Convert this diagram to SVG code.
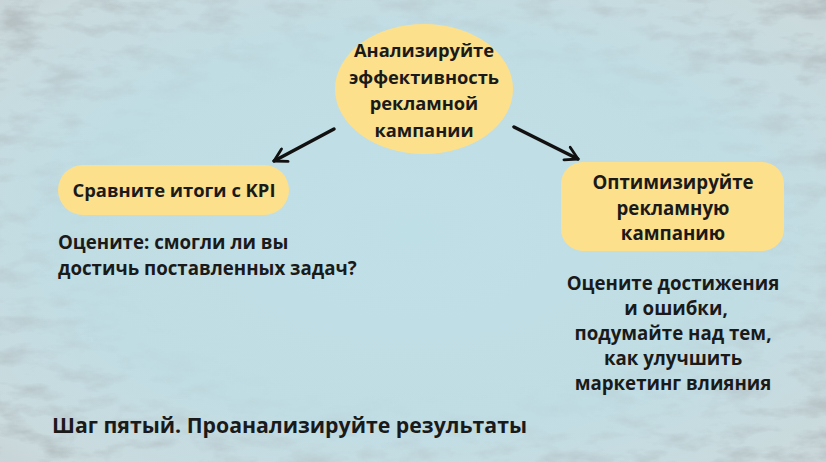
<svg xmlns="http://www.w3.org/2000/svg" width="826" height="462" viewBox="0 0 826 462">
  <defs>
    <radialGradient id="bg" cx="0.5" cy="0.5" r="0.72">
      <stop offset="0" stop-color="#bfdfe6"/>
      <stop offset="0.6" stop-color="#c1dde4"/>
      <stop offset="0.9" stop-color="#cadadd"/>
      <stop offset="1" stop-color="#c8d3d6"/>
    </radialGradient>
    <radialGradient id="vig" cx="0.5" cy="0.5" r="0.72">
      <stop offset="0.5" stop-color="#fff" stop-opacity="0"/>
      <stop offset="1" stop-color="#fff" stop-opacity="1"/>
    </radialGradient>
    <mask id="edge">
      <rect width="826" height="462" fill="url(#vig)"/>
    </mask>
    <filter id="tex" x="0" y="0" width="100%" height="100%">
      <feTurbulence type="fractalNoise" baseFrequency="0.025 0.06" numOctaves="4" seed="11" result="n"/>
      <feColorMatrix in="n" type="matrix" values="0 0 0 0 0.42  0 0 0 0 0.47  0 0 0 0 0.49  0 0 0 -3 1.6"/>
    </filter>
    <marker id="arr" viewBox="0 0 10 10" refX="8" refY="5" markerWidth="5" markerHeight="5" orient="auto" markerUnits="strokeWidth">
      <path d="M1,1 L8,5 L1,9" fill="none" stroke="#111" stroke-width="1.6" stroke-linecap="round" stroke-linejoin="round"/>
    </marker>
    <style>
      .t { font-family: "Open Sans", "Noto Sans", "DejaVu Sans", sans-serif; font-weight: 700; fill: #1a1a1a; }
      .c { text-anchor: middle; }
      .box { fill: #fde08b; }
      .link { stroke: #111; stroke-width: 3.5; fill: none; stroke-linecap: round; }
    </style>
  </defs>

  <rect width="826" height="462" fill="url(#bg)"/>
  <g mask="url(#edge)">
    <rect width="826" height="462" filter="url(#tex)" opacity="0.8"/>
  </g>

  <g id="connectors">
    <line class="link" x1="334" y1="129" x2="274" y2="161" marker-end="url(#arr)"/>
    <line class="link" x1="514" y1="127" x2="578" y2="159" marker-end="url(#arr)"/>
  </g>

  <g id="node-center">
    <ellipse class="box" cx="424" cy="89" rx="89" ry="65"/>
    <text class="t c" font-size="18.3" x="424" y="57">Анализируйте</text>
    <text class="t c" font-size="18.3" x="424" y="84">эффективность</text>
    <text class="t c" font-size="18.3" x="424" y="110">рекламной</text>
    <text class="t c" font-size="18.3" x="424" y="137">кампании</text>
  </g>

  <g id="node-left">
    <rect class="box" x="58" y="165" width="231" height="50" rx="25"/>
    <text class="t c" font-size="18.4" x="174" y="196.5">Сравните итоги с KPI</text>
  </g>

  <g id="text-left">
    <text class="t" font-size="18.7" x="58" y="248.5">Оцените: смогли ли вы</text>
    <text class="t" font-size="18.7" x="58" y="274.5">достичь поставленных задач?</text>
  </g>

  <g id="node-right">
    <rect class="box" x="561" y="162" width="223" height="89" rx="22"/>
    <text class="t c" font-size="18.7" x="673" y="189">Оптимизируйте</text>
    <text class="t c" font-size="18.7" x="673" y="214.5">рекламную</text>
    <text class="t c" font-size="18.7" x="673" y="240">кампанию</text>
  </g>

  <g id="text-right">
    <text class="t c" font-size="18.7" x="673" y="289.5">Оцените достижения</text>
    <text class="t c" font-size="18.7" x="676" y="314.5">и ошибки,</text>
    <text class="t c" font-size="18.7" x="673" y="339.5">подумайте над тем,</text>
    <text class="t c" font-size="18.7" x="673" y="364.5">как улучшить</text>
    <text class="t c" font-size="18.7" x="673" y="389.5">маркетинг влияния</text>
  </g>

  <g id="title">
    <text class="t" font-size="20.5" x="52" y="433" textLength="475" lengthAdjust="spacingAndGlyphs">Шаг пятый. Проанализируйте результаты</text>
  </g>
</svg>
